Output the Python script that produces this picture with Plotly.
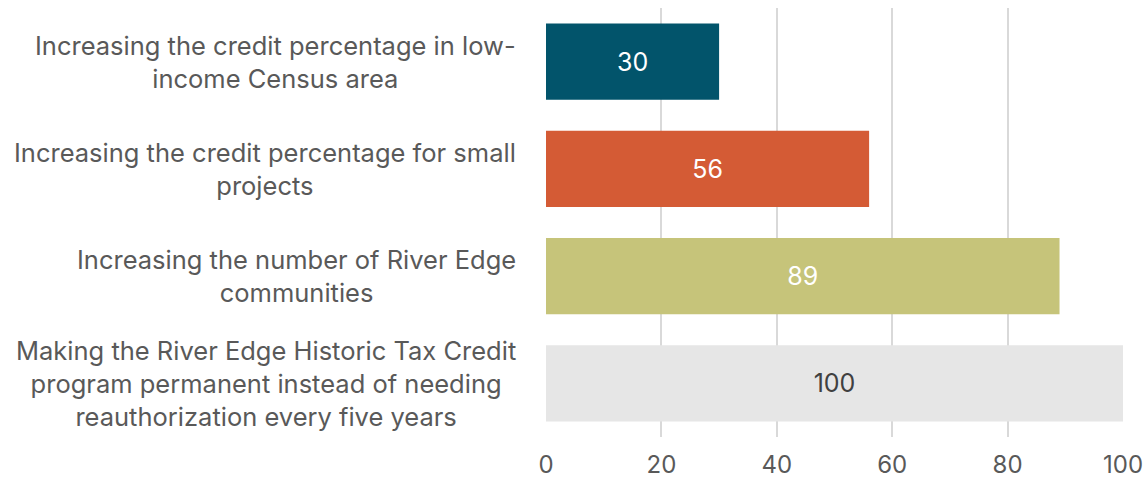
import plotly.graph_objects as go

categories = [
    "Increasing the credit percentage in low-<br>income Census area",
    "Increasing the credit percentage for small<br>projects",
    "Increasing the number of River Edge<br>communities",
    "Making the River Edge Historic Tax Credit<br>program permanent instead of needing<br>reauthorization every five years",
]
values = [30, 56, 89, 100]
bar_colors = ["#02546B", "#D45B35", "#C6C47A", "#E6E6E6"]
text_colors = ["#FFFFFF", "#FFFFFF", "#FFFFFF", "#404040"]
tick_vals = [0, 20, 40, 60, 80, 100]

FONT = "Inter"

fig = go.Figure(
    go.Bar(
        x=values,
        y=categories,
        orientation="h",
        marker=dict(color=bar_colors, line=dict(width=0)),
        text=[str(v) for v in values],
        textposition="inside",
        insidetextanchor="middle",
        textfont=dict(family=FONT, size=25, color=text_colors),
        width=0.71,
    )
)

for cat in categories:
    fig.add_annotation(
        x=0, xref="paper", xanchor="right", xshift=-28,
        y=cat, yref="y", yanchor="middle",
        text=cat, showarrow=False, align="center",
        font=dict(family=FONT, size=25.5, color="#595959"),
    )

fig.update_layout(
    width=1146, height=480,
    margin=dict(l=546, r=23, t=8, b=43, autoexpand=False),
    plot_bgcolor="white", paper_bgcolor="white",
    showlegend=False,
)
fig.update_xaxes(
    range=[0, 100], tickvals=tick_vals, automargin=False,
    showgrid=True, gridcolor="#D9D9D9", gridwidth=1.5,
    zeroline=False, showline=False,
    ticks="outside", ticklen=6, tickcolor="rgba(0,0,0,0)",
    tickfont=dict(family=FONT, size=24, color="#595959"),
)
fig.update_yaxes(
    autorange="reversed", showticklabels=False, showgrid=False, zeroline=False,
    automargin=False,
)

fig.write_html(
    "out.html",
    config={"displayModeBar": False},
    post_script="document.body.style.margin='0';document.body.style.overflow='hidden';",
)
